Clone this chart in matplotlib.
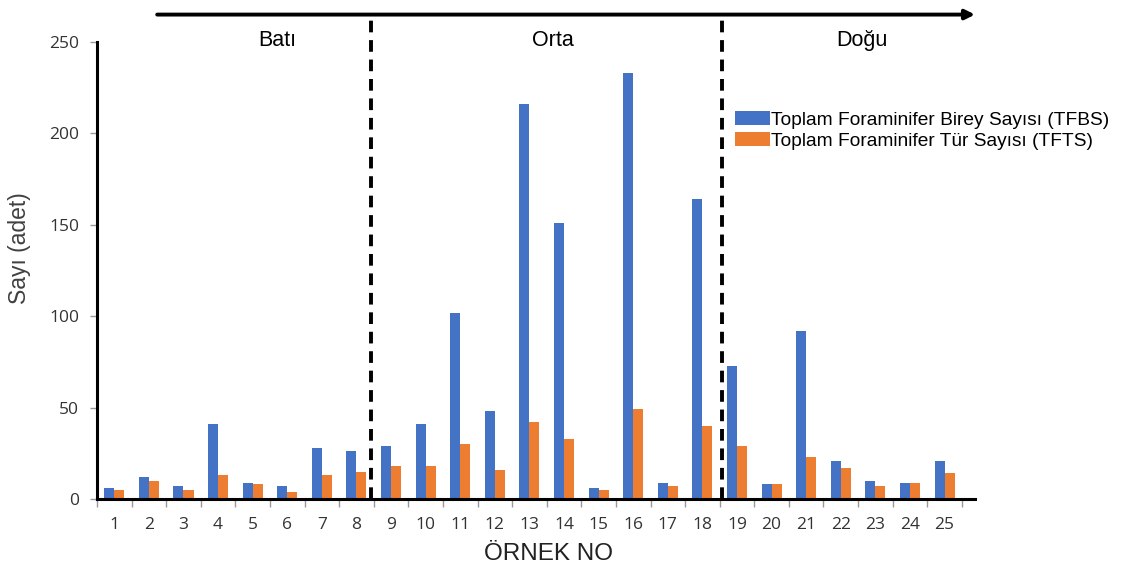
import matplotlib.pyplot as plt
import numpy as np

plt.rcParams['font.family'] = ['Liberation Sans', 'DejaVu Sans']

# örnek numaraları ve sayımlar
ornekler = list(range(1, 26))
tfbs = [6, 12, 7, 41, 9, 7, 28, 26, 29, 41, 102, 48, 216, 151, 6,
        233, 9, 164, 73, 8, 92, 21, 10, 9, 21]
tfts = [5, 10, 5, 13, 8, 4, 13, 15, 18, 18, 30, 16, 42, 33, 5,
        49, 7, 40, 29, 8, 23, 17, 7, 9, 14]
bolgeler = ["Batı", "Orta", "Doğu"]
bolge_sinir = [8.42, 18.56]

MAVI = "#4472C4"
TURUNCU = "#ED7D31"
YAZI = "#404040"

fig = plt.figure(figsize=(11.23, 5.67), dpi=100)
ax = fig.add_axes([97 / 1123, 1 - 499 / 567, 878 / 1123, 457 / 567])

x = np.array(ornekler)
w = 0.29
ax.bar(x - w / 2, tfbs, width=w, color=MAVI, label="Toplam Foraminifer Birey Sayısı (TFBS)")
ax.bar(x + w / 2, tfts, width=w, color=TURUNCU, label="Toplam Foraminifer Tür Sayısı (TFTS)")

ax.set_xlim(0.5, 25.88)
ax.set_ylim(0, 250)
ax.set_yticks(range(0, 251, 50))
ax.set_xticks(ornekler)
ax.set_xticks(np.arange(0.5, 26, 1), minor=True)
ax.tick_params(axis='x', which='major', length=0, labelsize=12.5, pad=13,
               labelcolor='#333333')
ax.tick_params(axis='x', which='minor', length=6, color='#999999', width=1)
ax.tick_params(axis='y', labelsize=12.5, length=5, width=1, color='#999999',
               pad=8, labelcolor='#333333')
for lab in ax.get_xticklabels() + ax.get_yticklabels():
    lab.set_family(['Open Sans', 'DejaVu Sans'])

for s in ['top', 'right']:
    ax.spines[s].set_visible(False)
for s in ['left', 'bottom']:
    ax.spines[s].set_linewidth(2.2)
    ax.spines[s].set_color('black')

ax.set_ylabel("Sayı (adet)", fontsize=16.5, color=YAZI, va='center')
ax.yaxis.set_label_coords(-0.088, 0.55)
ax.set_xlabel("ÖRNEK NO", fontsize=17.5, color='#222222', va='center')
ax.xaxis.set_label_coords(0.514, -0.12)

# bölge sınırları (kesikli çizgiler)
for xs in bolge_sinir:
    ax.plot([xs, xs], [0, 265], color='black', lw=2.8, ls=(0, (3, 2)),
            clip_on=False, zorder=5)

# üstteki yön oku
ax.annotate("", xy=(25.88, 265), xytext=(2.24, 265), xycoords='data',
            arrowprops=dict(arrowstyle='-|>', color='black', lw=2.8,
                            mutation_scale=14, shrinkA=0, shrinkB=0),
            annotation_clip=False)

for ad, xp in zip(bolgeler, [5.7, 13.68, 22.61]):
    ax.text(xp, 251, ad, fontsize=15.5, ha='center', va='center', clip_on=False)

ax.legend(loc='upper left', bbox_to_anchor=(0.718, 0.865), frameon=False,
          fontsize=13.8, handlelength=1.8, handleheight=0.75, handletextpad=0.1,
          labelspacing=0.15, borderaxespad=0)

fig.savefig("out.png", dpi=100)
